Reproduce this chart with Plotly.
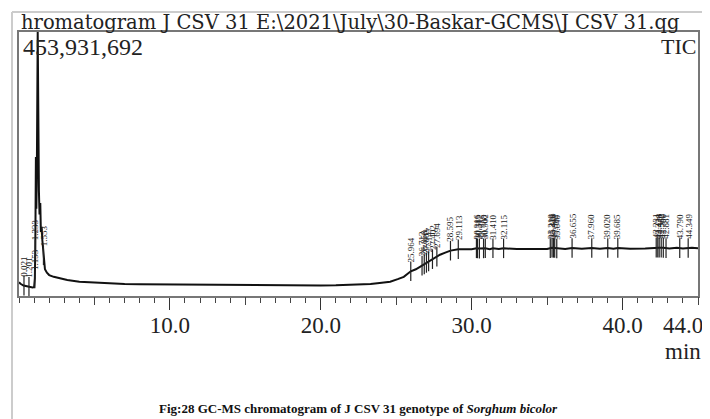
import plotly.graph_objects as go

# ---------------- data ----------------
# retention time (min) and total ion current (counts, millions)
rt = [0.00, 0.10, 0.30, 0.60, 0.90, 1.00, 1.05, 1.08, 1.12, 1.15, 1.18, 1.24, 1.28, 1.32,
      1.36, 1.41, 1.45, 1.50, 1.55, 1.62, 1.72, 1.85, 2.00, 2.30, 2.70, 3.20, 4.00, 5.00,
      6.00, 7.00, 8.00, 10.0, 12.0, 15.0, 18.0, 20.0, 21.0, 22.0, 22.6, 23.3, 23.9, 24.6,
      25.1, 25.5, 25.964, 26.3, 26.6, 26.9, 27.2, 27.55, 27.9, 28.25, 28.6, 29.113, 29.6,
      30.0, 30.316, 30.512, 30.902, 31.2, 31.41, 31.8, 32.115, 33.0, 34.0, 35.0, 35.326,
      35.502, 35.8, 36.2, 36.655, 37.3, 37.96, 38.5, 39.02, 39.4, 39.685, 40.5, 41.5,
      42.231, 42.428, 42.7, 43.1, 43.6, 44.0, 44.6, 45.0]
tic_m = [23.5, 21.0, 18.0, 16.0, 14.5, 15.0, 30.0, 80.0, 239.0, 150.0, 200.0, 453.9, 260.0, 180.0,
         140.0, 160.0, 110.0, 119.0, 95.0, 70.0, 46.0, 40.0, 36.0, 33.0, 30.0, 27.5, 24.5, 23.0,
         21.5, 20.6, 20.0, 19.5, 19.2, 19.0, 18.5, 18.2, 18.5, 18.9, 19.2, 20.6, 22.4, 24.6,
         29.0, 33.0, 42.5, 46.0, 50.5, 55.0, 60.5, 65.5, 71.0, 74.5, 78.0, 80.5, 80.2,
         80.3, 82.0, 81.5, 82.0, 80.6, 82.2, 80.7, 82.0, 80.8, 80.9, 81.0, 83.0,
         82.5, 80.9, 81.0, 82.5, 81.1, 82.6, 81.2, 82.6, 81.3, 82.7, 81.4, 81.5,
         83.2, 83.0, 82.8, 81.6, 82.8, 81.8, 83.0, 82.3]

# integrated peaks (retention time, min) and label texts
peak_rt = [0.33, 0.66, 1.05, 1.08, 1.62,
           25.964, 26.712, 26.858, 27.003, 27.147, 27.402, 27.694, 28.595, 29.113,
           30.316, 30.385, 30.512, 30.788, 30.902, 31.410, 32.115,
           35.210, 35.326, 35.418, 35.502, 35.640, 36.655, 37.960, 39.020, 39.685,
           42.231, 42.334, 42.428, 42.562, 42.700, 42.881, 43.790, 44.349]
peak_lbl = ["0.021", "1.201", "1.153", "1.233", "1.553",
            "25.964", "26.712", "26.858", "27.003", "27.147", "27.402", "27.694", "28.595", "29.113",
            "30.316", "30.385", "30.512", "30.788", "30.902", "31.410", "32.115",
            "35.210", "35.326", "35.418", "35.502", "35.640", "36.655", "37.960", "39.020", "39.685",
            "42.231", "42.334", "42.428", "42.562", "42.700", "42.881", "43.790", "44.349"]

x_major = [10, 20, 30, 40]
x_major_txt = ["10.0", "20.0", "30.0", "40.0"]
x_mid = [5, 15, 25, 35, 45]
x_end = 44.0
x_end_txt = "44.0"
y_max = 453931692
title_txt = "hromatogram J CSV 31 E:\\2021\\July\\30-Baskar-GCMS\\J CSV 31.qg"
caption = "<b>Fig:28 GC-MS chromatogram of J CSV 31 genotype of <i>Sorghum bicolor</i></b>"

# -------------- helpers --------------
tic = [v * 1e6 for v in tic_m]


def tic_at(t):
    # value of the drawn trace at time t (linear along the polyline)
    for i in range(1, len(rt)):
        if rt[i] >= t:
            a, b = rt[i - 1], rt[i]
            f = 0 if b == a else (t - a) / (b - a)
            return tic[i - 1] + f * (tic[i] - tic[i - 1])
    return tic[-1]


peak_y = [tic_at(t) for t in peak_rt]

FONT = "Liberation Serif, Times New Roman, serif"
fig = go.Figure()

fig.add_trace(go.Scatter(x=rt, y=tic, mode="lines",
                         line=dict(color="#111", width=2), hoverinfo="skip",
                         showlegend=False))
fig.add_trace(go.Scatter(x=peak_rt, y=peak_y, mode="markers", xaxis="x2",
                         marker=dict(symbol="line-ns", size=14,
                                     line=dict(color="#222", width=1.2)),
                         hoverinfo="skip", showlegend=False))

for t, y, s in zip(peak_rt, peak_y, peak_lbl):
    fig.add_annotation(x=t, y=y, text=s, textangle=-90, showarrow=False,
                       xanchor="center", yanchor="bottom", yshift=7,
                       font=dict(family=FONT, size=9, color="#222"))

fig.add_annotation(x=x_end, y=-0.11, xref="x", yref="paper", text=x_end_txt,
                   xanchor="center", yanchor="middle",
                   showarrow=False, font=dict(family=FONT, size=23, color="#222"))
fig.add_annotation(x=x_end, y=-0.212, xref="x", yref="paper", text="min",
                   xanchor="center", yanchor="middle",
                   showarrow=False, font=dict(family=FONT, size=23, color="#222"))
fig.add_annotation(x=0.003, y=1.0, xref="paper", yref="paper", text="453,931,692",
                   xanchor="left", yanchor="top", showarrow=False,
                   font=dict(family=FONT, size=24, color="#222"))
fig.add_annotation(x=1.0, y=1.0, xref="paper", yref="paper", text="TIC",
                   xanchor="right", yanchor="top", showarrow=False,
                   font=dict(family=FONT, size=22, color="#222"))
fig.add_annotation(x=0.0015, y=1.0, xref="paper", yref="paper", text=title_txt,
                   xanchor="left", yanchor="bottom", showarrow=False, yshift=-3,
                   borderpad=0,
                   font=dict(family="DejaVu Serif, serif", size=19.5, color="#222"))
fig.add_annotation(x=0.5, y=-0.425, xref="paper", yref="paper", text=caption,
                   xanchor="center", yanchor="middle", showarrow=False,
                   font=dict(family=FONT, size=13, color="#111"))

# page border lines
fig.add_shape(type="line", xref="paper", yref="paper", x0=-0.0103, x1=1.05,
              y0=1.0758, y1=1.0758, line=dict(color="#bbb", width=1.5))
fig.add_shape(type="line", xref="paper", yref="paper", x0=-0.0103, x1=-0.0103,
              y0=1.0758, y1=-0.5, line=dict(color="#ccc", width=2))

# the page is shown with the browser's 8px body margin, so the plot box
# (679 x 264 px) is placed 8px up/left of where it sits in the reference
fig.update_layout(
    width=710, height=419,
    margin=dict(l=11, r=20, t=24, b=131),
    paper_bgcolor="white", plot_bgcolor="white",
    xaxis=dict(range=[0, 45], showgrid=False, zeroline=False,
               showline=True, mirror=True, linecolor="#777", linewidth=1.5,
               tickmode="array", tickvals=x_major, ticktext=x_major_txt,
               ticks="outside", ticklen=12, tickwidth=1, tickcolor="#333",
               ticklabelstandoff=-4,
               tickfont=dict(family=FONT, size=23, color="#222"),
               minor=dict(dtick=1, tick0=0, ticks="outside", ticklen=5,
                          tickwidth=1, tickcolor="#444", showgrid=False)),
    xaxis2=dict(overlaying="x", matches="x", anchor="y", side="bottom",
                showgrid=False, zeroline=False, showline=False,
                tickmode="array", tickvals=x_mid, ticks="outside", ticklen=8,
                tickwidth=1, tickcolor="#444", showticklabels=False),
    yaxis=dict(range=[0, y_max], showgrid=False, zeroline=False,
               showline=True, mirror=True, linecolor="#777", linewidth=1.5,
               showticklabels=False, ticks=""),
)

fig.write_html("out.html")
